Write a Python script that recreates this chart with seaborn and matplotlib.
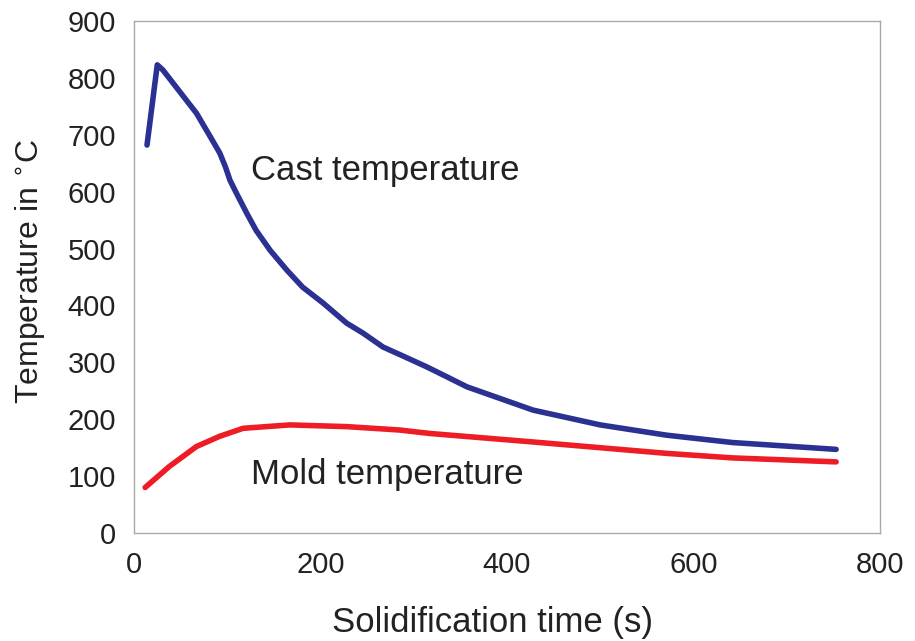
import matplotlib
matplotlib.use("Agg")
import matplotlib.pyplot as plt
import pandas as pd
import seaborn as sns

# valores
tiempo_cast = [14, 25, 31, 49, 67, 81, 92, 98, 103, 110, 121, 131, 146, 164, 181, 203,
               228, 246, 267, 290, 314, 335, 357, 428, 500, 571, 642, 753]
temp_cast = [682, 823, 814, 776, 738, 699, 668, 644, 620, 597, 562, 532, 497, 462, 432, 404,
             369, 351, 327, 310, 292, 275, 257, 216, 190, 172, 159, 147]

tiempo_mold = [12, 38, 67, 92, 117, 167, 228, 285, 317, 428, 571, 642, 753]
temp_mold = [80, 117, 152, 170, 184, 190, 187, 181, 175, 160, 140, 132, 125]

x_ticks = [0, 200, 400, 600, 800]
y_ticks = [0, 100, 200, 300, 400, 500, 600, 700, 800, 900]

df_cast = pd.DataFrame({"tiempo": tiempo_cast, "temp": temp_cast})
df_mold = pd.DataFrame({"tiempo": tiempo_mold, "temp": temp_mold})

sns.set_style("white")
plt.rcParams["font.family"] = ["Liberation Sans", "DejaVu Sans"]

fig = plt.figure(figsize=(9.15, 6.41), dpi=100)
ax = fig.add_axes([0.1464, 0.1685, 0.8153, 0.7987])

sns.lineplot(data=df_cast, x="tiempo", y="temp", color="#2b3192", linewidth=4, ax=ax)
sns.lineplot(data=df_mold, x="tiempo", y="temp", color="#ee1c24", linewidth=4, ax=ax)

ax.set_xlim(0, 800)
ax.set_ylim(0, 900)
ax.set_xticks(x_ticks)
ax.set_yticks(y_ticks)
ax.tick_params(labelsize=21, colors="#222222", length=0, pad=13)

ax.set_xlabel("Solidification time (s)", fontsize=25, color="#222222")
ax.set_ylabel("Temperature in $^{\\circ}$C", fontsize=23, color="#222222")
ax.xaxis.set_label_coords(0.481, -0.142)
ax.yaxis.set_label_coords(-0.115, 0.51)

ax.text(126, 638, "Cast temperature", fontsize=25, color="#222222", va="center")
ax.text(126, 102, "Mold temperature", fontsize=25, color="#222222", va="center")

for lado in ax.spines.values():
    lado.set_color("#aaaaaa")
    lado.set_linewidth(1.0)

fig.savefig("out.png", dpi=100)
